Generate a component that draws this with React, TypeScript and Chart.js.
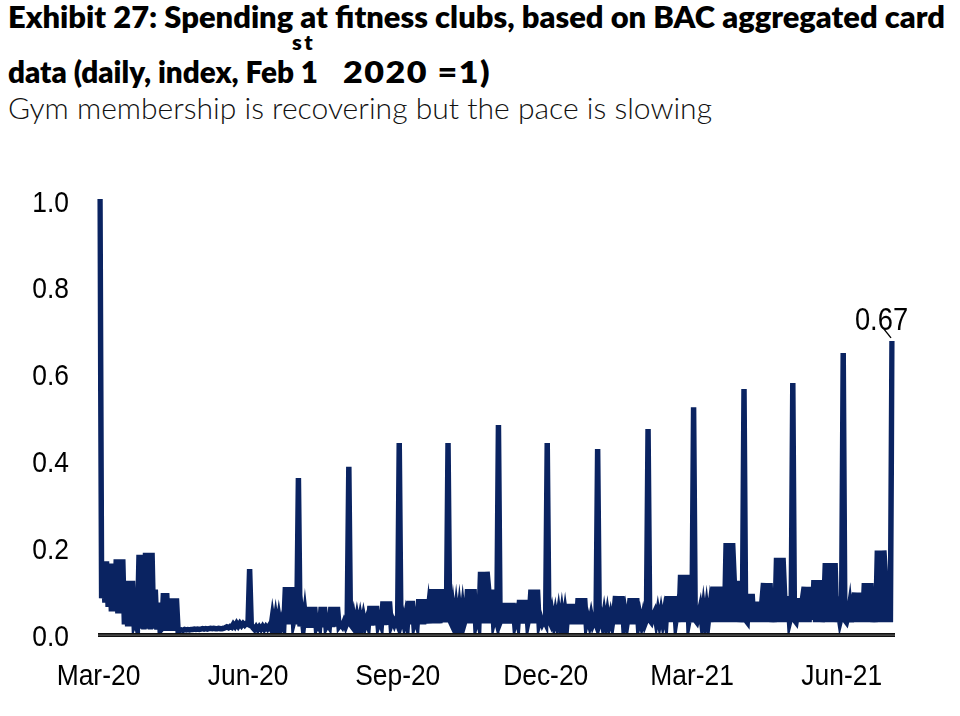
import React, { useEffect, useLayoutEffect, useRef } from 'react';
import { Chart, registerables } from 'chart.js';

Chart.register(...registerables);

// Daily index values (Feb 1st 2020 = 1), one array per month
const mar20 = [1.0, 0.08, 0.165, 0.07, 0.165, 0.06, 0.16, 0.05, 0.16, 0.05, 0.17, 0.045, 0.17, 0.045, 0.17, 0.02, 0.12, 0.015, 0.12, 0.015, 0.12, 0.02, 0.03, 0.01, 0.18, 0.01, 0.18, 0.008, 0.185, 0.01, 0.185];
const apr20 = [0.008, 0.185, 0.01, 0.1, 0.008, 0.07, 0.005, 0.01, 0.092, 0.005, 0.092, 0.005, 0.08, 0.005, 0.08, 0.005, 0.08, 0.006, 0.006, 0.007, 0.006, 0.008, 0.007, 0.008, 0.007, 0.008, 0.008, 0.009, 0.008, 0.009];
const may20 = [0.008, 0.009, 0.01, 0.009, 0.01, 0.009, 0.01, 0.011, 0.01, 0.011, 0.01, 0.01, 0.011, 0.01, 0.01, 0.011, 0.012, 0.014, 0.012, 0.015, 0.013, 0.02, 0.015, 0.022, 0.016, 0.022, 0.017, 0.022, 0.018, 0.022, 0.02];
const jun20 = [0.147, 0.02, 0.012, 0.008, 0.014, 0.008, 0.014, 0.009, 0.015, 0.009, 0.015, 0.01, 0.016, 0.01, 0.037, 0.012, 0.037, 0.012, 0.037, 0.014, 0.03, 0.015, 0.106, 0.02, 0.106, 0.02, 0.106, 0.025, 0.04, 0.02];
const jul20 = [0.357, 0.015, 0.046, 0.012, 0.046, 0.012, 0.06, 0.012, 0.06, 0.012, 0.06, 0.012, 0.02, 0.012, 0.06, 0.013, 0.06, 0.013, 0.02, 0.014, 0.06, 0.014, 0.06, 0.015, 0.06, 0.015, 0.02, 0.015, 0.025, 0.015, 0.025];
const aug20 = [0.383, 0.02, 0.015, 0.037, 0.015, 0.037, 0.016, 0.037, 0.016, 0.037, 0.017, 0.03, 0.017, 0.062, 0.017, 0.062, 0.018, 0.062, 0.018, 0.03, 0.018, 0.073, 0.018, 0.073, 0.019, 0.073, 0.019, 0.03, 0.02, 0.03, 0.02];
const sep20 = [0.438, 0.025, 0.041, 0.02, 0.041, 0.02, 0.074, 0.02, 0.074, 0.02, 0.035, 0.02, 0.078, 0.02, 0.078, 0.02, 0.078, 0.022, 0.057, 0.022, 0.101, 0.022, 0.101, 0.022, 0.101, 0.022, 0.101, 0.025, 0.05, 0.025];
const oct20 = [0.438, 0.03, 0.022, 0.056, 0.022, 0.056, 0.022, 0.056, 0.022, 0.056, 0.022, 0.035, 0.101, 0.022, 0.101, 0.022, 0.101, 0.022, 0.04, 0.022, 0.141, 0.022, 0.141, 0.022, 0.141, 0.1, 0.022, 0.1, 0.025, 0.04, 0.025];
const nov20 = [0.479, 0.025, 0.035, 0.069, 0.022, 0.069, 0.022, 0.069, 0.022, 0.069, 0.022, 0.04, 0.022, 0.076, 0.022, 0.076, 0.022, 0.076, 0.022, 0.04, 0.1, 0.022, 0.1, 0.022, 0.1, 0.022, 0.035, 0.022, 0.03, 0.022];
const dec20 = [0.438, 0.03, 0.022, 0.045, 0.022, 0.045, 0.022, 0.048, 0.02, 0.048, 0.02, 0.048, 0.02, 0.067, 0.02, 0.067, 0.02, 0.067, 0.02, 0.08, 0.02, 0.08, 0.02, 0.08, 0.02, 0.035, 0.02, 0.04, 0.02, 0.03, 0.02];
const jan21 = [0.424, 0.025, 0.04, 0.02, 0.045, 0.02, 0.045, 0.02, 0.04, 0.02, 0.045, 0.085, 0.02, 0.085, 0.02, 0.085, 0.02, 0.045, 0.02, 0.045, 0.08, 0.02, 0.08, 0.02, 0.08, 0.02, 0.04, 0.02, 0.04, 0.02, 0.03];
const feb21 = [0.47, 0.03, 0.025, 0.04, 0.048, 0.025, 0.048, 0.025, 0.048, 0.025, 0.048, 0.025, 0.085, 0.025, 0.085, 0.025, 0.085, 0.025, 0.05, 0.025, 0.134, 0.025, 0.134, 0.025, 0.134, 0.025, 0.045, 0.025];
const mar21 = [0.52, 0.03, 0.025, 0.04, 0.057, 0.025, 0.057, 0.025, 0.057, 0.025, 0.057, 0.025, 0.107, 0.025, 0.107, 0.025, 0.107, 0.025, 0.107, 0.025, 0.207, 0.025, 0.207, 0.025, 0.207, 0.12, 0.025, 0.12, 0.025, 0.05, 0.025];
const apr21 = [0.562, 0.03, 0.025, 0.09, 0.025, 0.09, 0.025, 0.072, 0.025, 0.072, 0.025, 0.072, 0.115, 0.025, 0.115, 0.025, 0.115, 0.025, 0.05, 0.025, 0.173, 0.025, 0.173, 0.025, 0.173, 0.085, 0.025, 0.085, 0.025, 0.04];
const may21 = [0.576, 0.03, 0.025, 0.05, 0.08, 0.025, 0.08, 0.106, 0.025, 0.106, 0.025, 0.106, 0.03, 0.122, 0.025, 0.122, 0.025, 0.122, 0.025, 0.05, 0.161, 0.025, 0.161, 0.025, 0.161, 0.025, 0.161, 0.025, 0.05, 0.025, 0.04];
const jun21 = [0.645, 0.03, 0.025, 0.04, 0.065, 0.025, 0.065, 0.093, 0.025, 0.093, 0.025, 0.093, 0.025, 0.115, 0.025, 0.115, 0.025, 0.115, 0.025, 0.05, 0.025, 0.19, 0.025, 0.19, 0.025, 0.19, 0.13, 0.025, 0.13, 0.025];
const jul21 = [0.673];

const monthKeys = ['2020-03', '2020-04', '2020-05', '2020-06', '2020-07', '2020-08', '2020-09', '2020-10', '2020-11', '2020-12', '2021-01', '2021-02', '2021-03', '2021-04', '2021-05', '2021-06', '2021-07'];
const monthValues = [mar20, apr20, may20, jun20, jul20, aug20, sep20, oct20, nov20, dec20, jan21, feb21, mar21, apr21, may21, jun21, jul21];

const xTickDates = ['2020-03-01', '2020-06-01', '2020-09-01', '2020-12-01', '2021-03-01', '2021-06-01'];
const xTickText = ['Mar-20', 'Jun-20', 'Sep-20', 'Dec-20', 'Mar-21', 'Jun-21'];
const yTicks = [0, 0.2, 0.4, 0.6, 0.8, 1.0];

const labels: string[] = [];
const values: number[] = [];
monthKeys.forEach((k, mi) => {
  monthValues[mi].forEach((v, d) => {
    labels.push(`${k}-${String(d + 1).padStart(2, '0')}`);
    values.push(v);
  });
});

const AXIS_FONT = "'Liberation Sans', Arial, sans-serif";
const TITLE_FONT = "Lato, 'Open Sans', sans-serif";
const LINE_COLOR = '#0a2361';
const NARROW = 0.88;

function narrowText(ctx: CanvasRenderingContext2D, text: string, x: number, y: number, align: 'left' | 'right' | 'center') {
  ctx.save();
  ctx.translate(x, y);
  ctx.scale(NARROW, 1);
  ctx.textAlign = align;
  ctx.textBaseline = 'alphabetic';
  ctx.fillText(text, 0, 0);
  ctx.restore();
}

const overlay = {
  id: 'overlay',
  afterDatasetsDraw(chart: any) {
    const { ctx, chartArea, scales } = chart;
    const xs = scales.x;
    const ys = scales.y;
    const y0 = ys.getPixelForValue(0);
    const x1 = chartArea.left - 2;
    const w = chartArea.right - chartArea.left + 5;
    ctx.save();
    // baseline axis (double rule)
    ctx.fillStyle = '#6b6b6b';
    ctx.fillRect(x1, y0, w, 4);
    ctx.fillStyle = '#111';
    ctx.fillRect(x1, y0, w, 1.6);
    ctx.fillRect(x1, y0 + 2.6, w, 1.4);

    // tick labels from the scales
    ctx.fillStyle = '#000';
    ctx.font = `30px ${AXIS_FONT}`;
    ys.ticks.forEach((t: any) => {
      const py = ys.getPixelForValue(t.value);
      narrowText(ctx, Number(t.value).toFixed(1), chartArea.left - 31, py + 12.5, 'right');
    });
    xs.ticks.forEach((t: any, i: number) => {
      const px = xs.getPixelForValue(t.value);
      narrowText(ctx, xTickText[i], px - 1.5, y0 + 52, 'center');
    });

    // annotation on last point
    const last = values.length - 1;
    const px = xs.getPixelForValue(last);
    const py = ys.getPixelForValue(values[last]);
    ctx.strokeStyle = '#000';
    ctx.lineWidth = 1.4;
    ctx.beginPath();
    ctx.moveTo(px - 9, py - 13);
    ctx.lineTo(px - 1, py - 3);
    ctx.stroke();
    ctx.font = `31px ${AXIS_FONT}`;
    narrowText(ctx, values[last].toFixed(2), px - 10.5, py - 11, 'center');
    ctx.restore();
  },
};

function LineChart() {
  const ref = useRef<HTMLCanvasElement | null>(null);
  useEffect(() => {
    if (!ref.current) return;
    const tickIdx = xTickDates.map((d) => labels.indexOf(d));
    const chart = new Chart(ref.current, {
      type: 'line',
      data: {
        labels,
        datasets: [
          {
            data: values,
            borderColor: LINE_COLOR,
            borderWidth: 5.5,
            pointRadius: 0,
            tension: 0,
            fill: false,
            borderJoinStyle: 'miter',
          },
        ],
      },
      options: {
        animation: false,
        responsive: false,
        devicePixelRatio: 1,
        layout: { padding: { top: 49, right: 68, left: 0, bottom: 0 } },
        plugins: { legend: { display: false }, tooltip: { enabled: false }, title: { display: false } },
        scales: {
          x: {
            type: 'category',
            offset: false,
            grid: { display: false, drawTicks: false },
            border: { display: false },
            afterBuildTicks: (scale: any) => {
              scale.ticks = tickIdx.map((i) => ({ value: i }));
            },
            afterFit: (scale: any) => {
              scale.height = 83;
            },
            ticks: { display: false, autoSkip: false, maxRotation: 0, minRotation: 0 },
          },
          y: {
            min: 0,
            max: 1,
            grid: { display: false, drawTicks: false },
            border: { display: false },
            afterBuildTicks: (scale: any) => {
              scale.ticks = yTicks.map((v) => ({ value: v }));
            },
            afterFit: (scale: any) => {
              scale.width = 100;
            },
            ticks: { display: false },
          },
        },
      },
      plugins: [overlay],
    } as any);
    return () => chart.destroy();
  }, []);
  return <canvas ref={ref} width={960} height={566} style={{ display: 'block' }} />;
}

function FitText(props: { left: number; top: number; width: number; style: React.CSSProperties; children: string }) {
  const ref = useRef<HTMLDivElement | null>(null);
  useLayoutEffect(() => {
    const fit = () => {
      const el = ref.current;
      if (!el) return;
      el.style.transform = 'none';
      el.style.letterSpacing = 'normal';
      const w = el.getBoundingClientRect().width;
      if (w <= 0) return;
      const ratio = props.width / w;
      if (ratio <= 1.1) {
        el.style.transform = `scaleX(${ratio})`;
      } else {
        const n = props.children.length;
        const sp = (props.width / 1.1 - w) / n;
        el.style.letterSpacing = `${sp}px`;
        el.style.transform = 'scaleX(1.1)';
      }
    };
    fit();
    if ((document as any).fonts && (document as any).fonts.ready) {
      (document as any).fonts.ready.then(fit);
    }
  }, [props.width]);
  return (
    <div
      ref={ref}
      style={{
        position: 'absolute',
        left: props.left,
        top: props.top,
        whiteSpace: 'nowrap',
        transformOrigin: '0 0',
        ...props.style,
      }}
    >
      {props.children}
    </div>
  );
}

export default function App() {
  const t: React.CSSProperties = {
    fontFamily: TITLE_FONT,
    fontWeight: 800,
    fontSize: 31,
    lineHeight: '37.2px',
    color: '#000',
  };
  return (
    <div style={{ position: 'absolute', left: 0, top: 0, width: 960, height: 716, background: '#fff', overflow: 'hidden' }}>
      <FitText left={8} top={-2.3} width={937} style={t}>
        {'Exhibit 27: Spending at fitness clubs, based on BAC aggregated card'}
      </FitText>
      <FitText left={8} top={53.4} width={310} style={t}>
        {'data (daily, index, Feb 1'}
      </FitText>
      <FitText left={292} top={30.3} width={23} style={{ ...t, fontSize: 20, lineHeight: '24px' }}>
        {'st'}
      </FitText>
      <FitText left={343} top={53.4} width={148} style={t}>
        {'2020 =1)'}
      </FitText>
      <FitText
        left={8}
        top={89}
        width={704}
        style={{ fontFamily: "Lato, 'Open Sans', sans-serif", fontWeight: 300, fontSize: 30, lineHeight: '36px', color: '#111' }}
      >
        {'Gym membership is recovering but the pace is slowing'}
      </FitText>
      <div style={{ position: 'absolute', left: 0, top: 150, width: 960, height: 566 }}>
        <LineChart />
      </div>
    </div>
  );
}
